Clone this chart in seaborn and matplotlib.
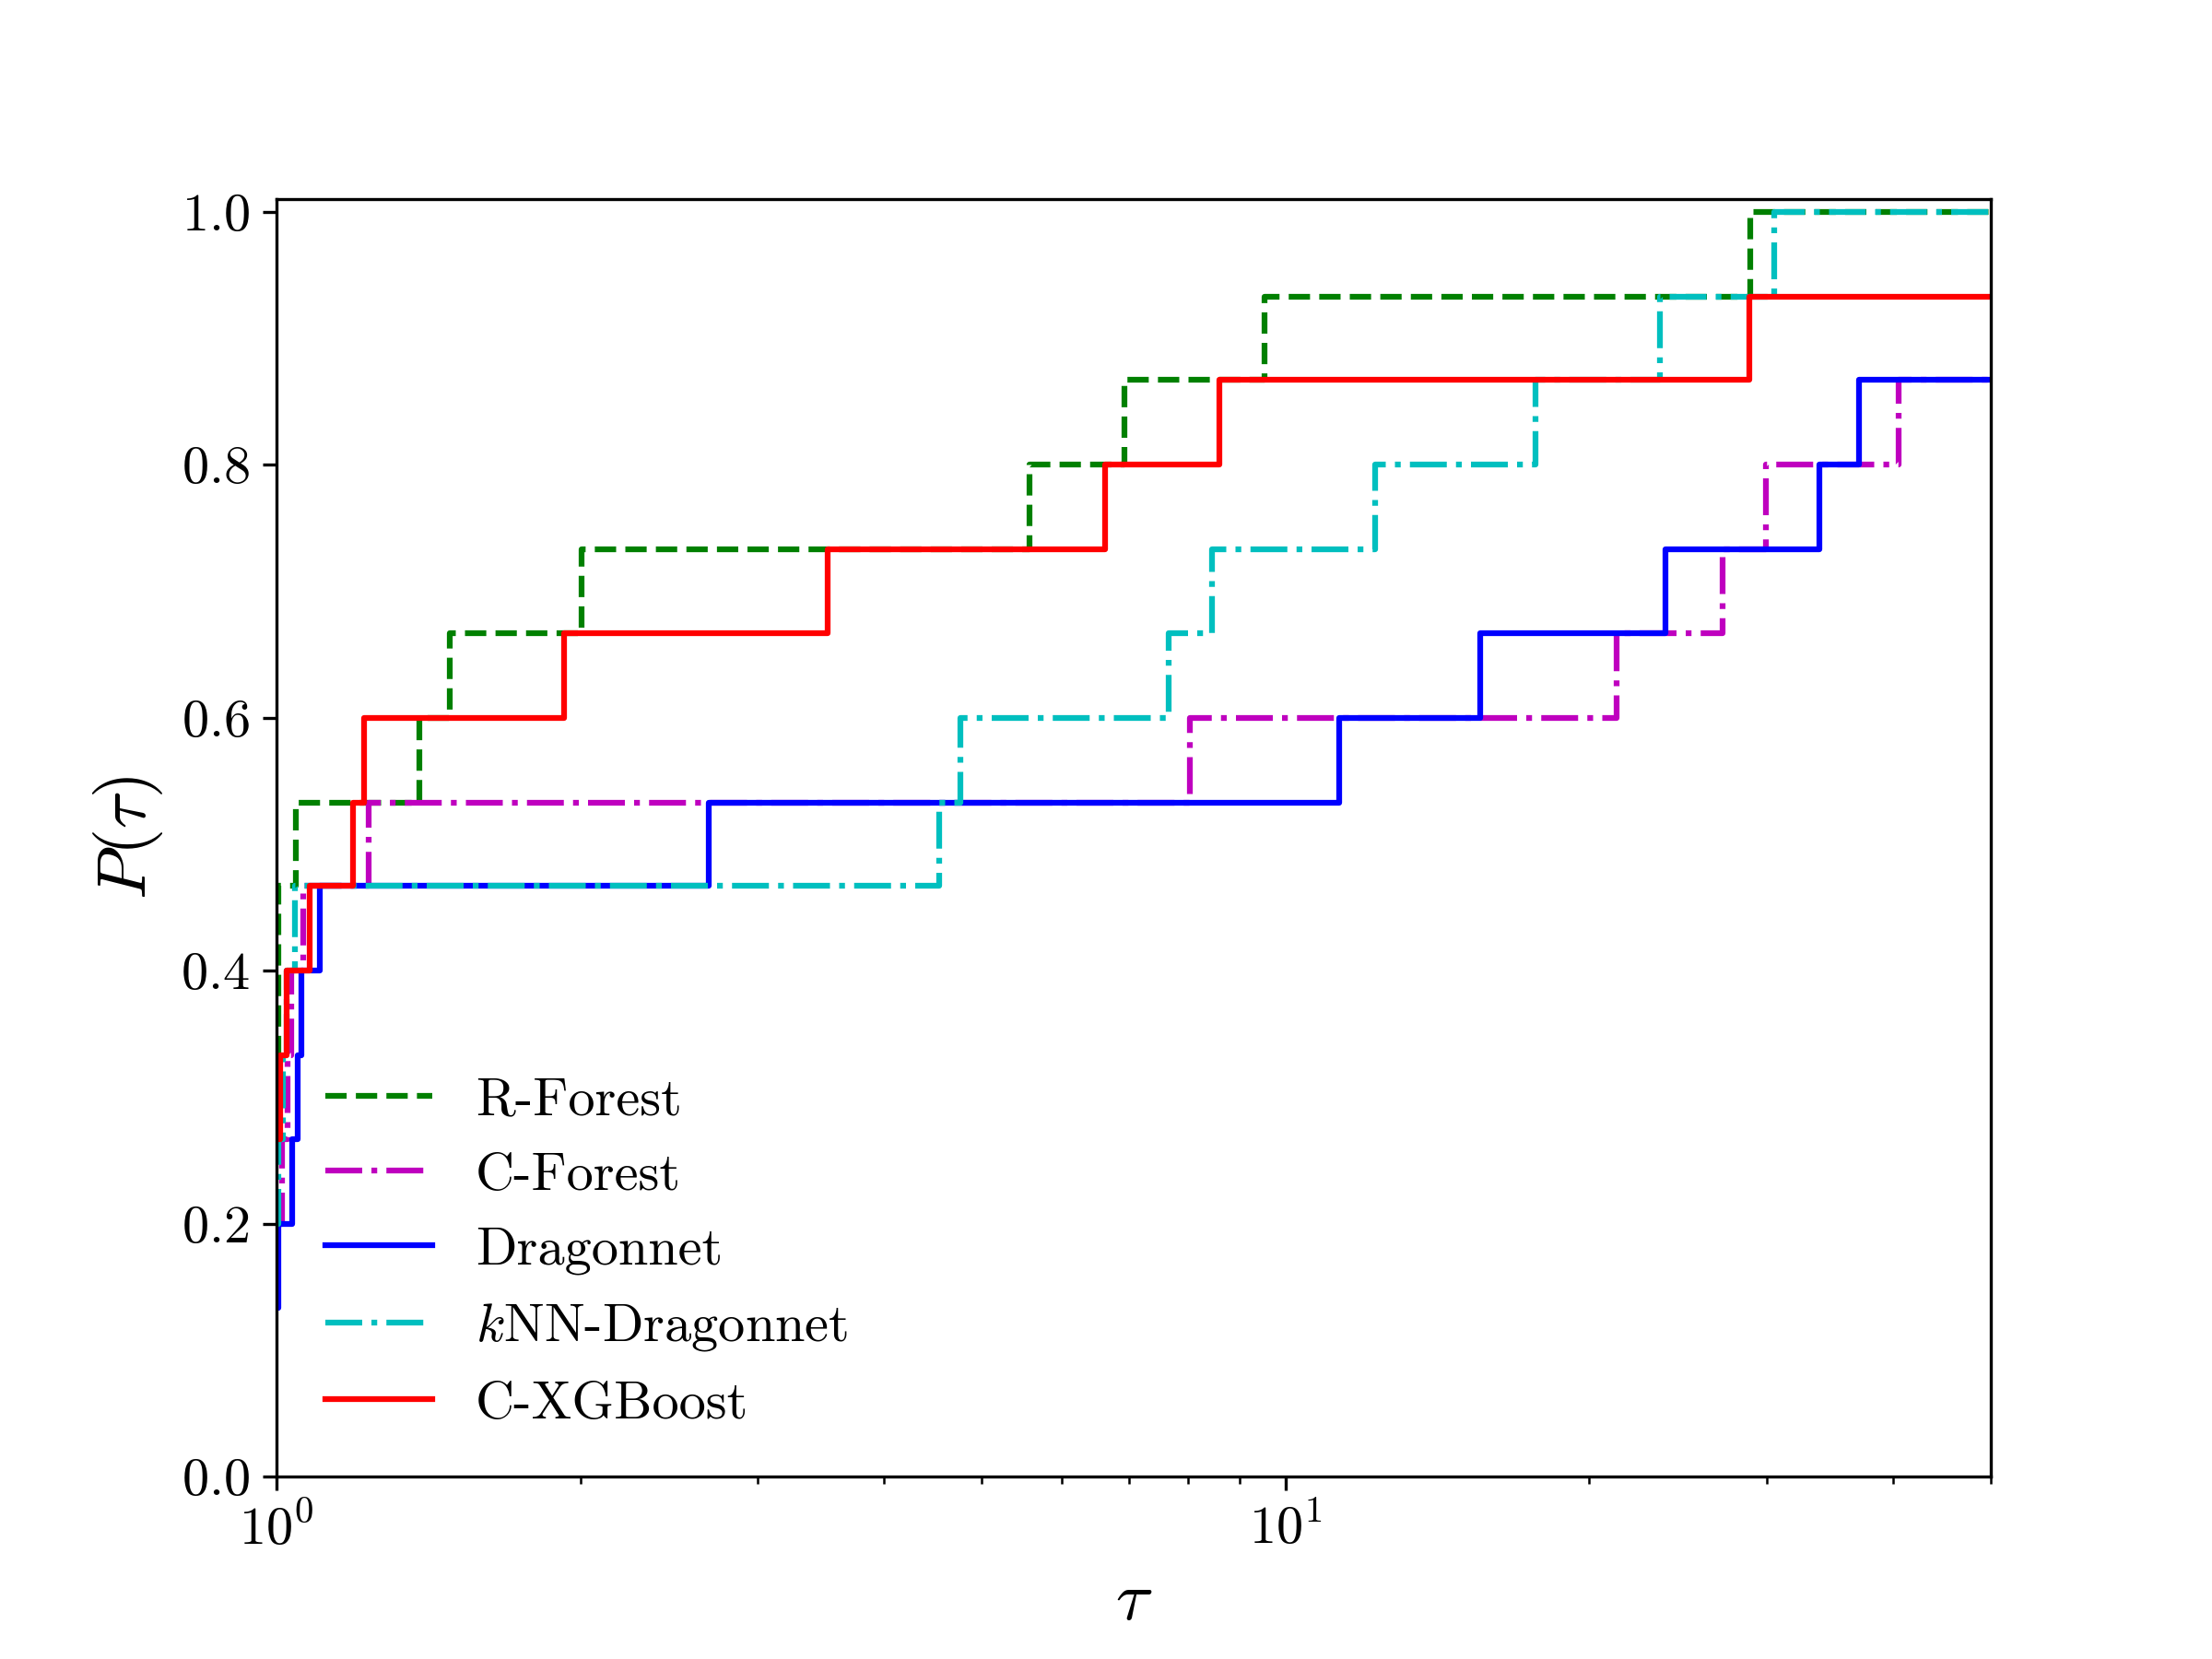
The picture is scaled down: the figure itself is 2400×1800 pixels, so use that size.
import pandas as pd
import matplotlib
matplotlib.use("Agg")
import matplotlib.pyplot as plt
import seaborn as sns

# --- データ: 性能プロファイル (tau, P(tau)) ---
METHODS = ['R-Forest', 'C-Forest', 'Dragonnet', 'kNN-Dragonnet', 'C-XGBoost']
LABELS = ['R-Forest', 'C-Forest', 'Dragonnet', '$k$NN-Dragonnet', 'C-XGBoost']

tau_rforest = [1.0, 1.005, 1.045, 1.384, 1.485, 2.004, 5.58, 6.92, 9.54, 28.9, 50.0]
p_rforest = [0.333, 0.467, 0.533, 0.6, 0.667, 0.733, 0.8, 0.867, 0.933, 1.0, 1.0]

tau_cforest = [1.0, 1.012, 1.025, 1.034, 1.062, 1.234, 8.04, 21.3, 27.1, 29.9, 40.5, 50.0]
p_cforest = [0.2, 0.267, 0.333, 0.4, 0.467, 0.533, 0.6, 0.667, 0.733, 0.8, 0.867, 0.867]

tau_dragon = [1.0, 1.005, 1.036, 1.049, 1.058, 1.105, 2.68, 11.3, 15.6, 23.8, 33.8, 37.0, 50.0]
p_dragon = [0.133, 0.2, 0.267, 0.333, 0.4, 0.467, 0.533, 0.6, 0.667, 0.733, 0.8, 0.867, 0.867]

tau_knn = [1.0, 1.005, 1.014, 1.023, 1.042, 4.54, 4.76, 7.66, 8.46, 12.27, 17.7, 23.5, 30.5, 50.0]
p_knn = [0.2, 0.267, 0.333, 0.4, 0.467, 0.533, 0.6, 0.667, 0.733, 0.8, 0.867, 0.933, 1.0, 1.0]

tau_xgb = [1.0, 1.008, 1.023, 1.078, 1.191, 1.221, 1.928, 3.52, 6.62, 8.60, 28.8, 50.0]
p_xgb = [0.267, 0.333, 0.4, 0.467, 0.533, 0.6, 0.667, 0.733, 0.8, 0.867, 0.933, 0.933]

COLORS = {'R-Forest': 'g', 'C-Forest': 'm', 'Dragonnet': 'b',
          'kNN-Dragonnet': 'c', 'C-XGBoost': 'r'}
DASHES = {'R-Forest': (3.7, 1.6), 'C-Forest': (6.4, 1.6, 1.0, 1.6), 'Dragonnet': '',
          'kNN-Dragonnet': (6.4, 1.6, 1.0, 1.6), 'C-XGBoost': ''}

# long形式にまとめる
series = [(tau_rforest, p_rforest), (tau_cforest, p_cforest), (tau_dragon, p_dragon),
          (tau_knn, p_knn), (tau_xgb, p_xgb)]
frames = []
for name, (t, p) in zip(METHODS, series):
    frames.append(pd.DataFrame({'tau': t, 'P': p, 'method': name}))
df = pd.concat(frames, ignore_index=True)

# フォント (Computer Modern 風)
plt.rcParams['font.family'] = 'serif'
plt.rcParams['font.serif'] = ['cmr10']
plt.rcParams['mathtext.fontset'] = 'cm'
plt.rcParams['axes.formatter.use_mathtext'] = True
plt.rcParams['axes.unicode_minus'] = False

fig, ax = plt.subplots(figsize=(8, 6), dpi=300)
ax.set_xscale('log')

sns.lineplot(data=df, x='tau', y='P', hue='method', style='method',
             hue_order=METHODS, style_order=METHODS,
             palette=COLORS, dashes=DASHES, linewidth=1.5,
             drawstyle='steps-post', estimator=None, sort=False, ax=ax)

ax.set_xlim(1, 50)
ax.set_ylim(0, 1.01)
ax.set_yticks([0.0, 0.2, 0.4, 0.6, 0.8, 1.0])
ax.tick_params(axis='both', which='major', labelsize=14)
ax.set_xlabel(r'$\tau$', fontsize=18)
ax.set_ylabel(r'$P(\tau)$', fontsize=18)

sns.move_legend(ax, 'lower left', frameon=False, fontsize=14, title='', labels=LABELS)

fig.savefig('out.png', dpi=300)
